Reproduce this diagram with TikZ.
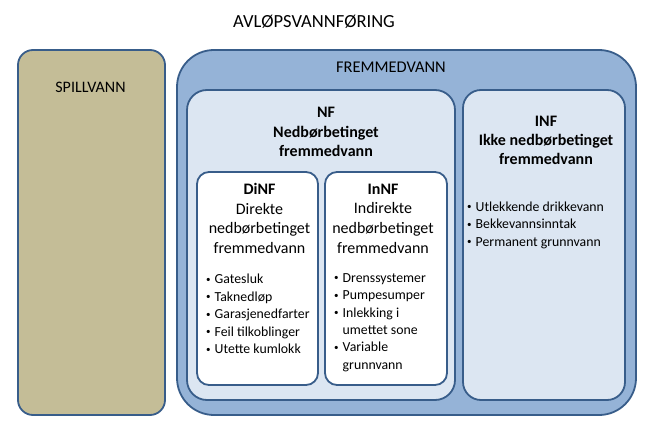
\documentclass[tikz,border=0pt]{standalone}
\usepackage{fontspec}
\setmainfont{Carlito}
\definecolor{edge}{HTML}{385D8A}
\definecolor{tan}{HTML}{C4BD97}
\definecolor{midblue}{HTML}{95B3D7}
\definecolor{lightblue}{HTML}{DCE6F2}
\newcommand{\bul}{\makebox[8.5pt][l]{\raisebox{1.5pt}{\fontsize{9}{9}\selectfont •}}}
\newcommand{\cont}{\hspace*{8.5pt}}
\tikzset{
  box/.style={draw=edge, line width=1.8pt, inner sep=0pt, outer sep=0pt},
  head/.style={align=center, inner sep=0pt, font=\fontsize{16}{19.5}\selectfont},
  lst/.style={align=left, inner sep=0pt, anchor=west, font=\fontsize{13.8}{17.4}\selectfont},
}
\begin{document}
\begin{tikzpicture}[x=1pt,y=-1pt]
\useasboundingbox (0,0) rectangle (652,430);
% boxes
\node[box, fill=tan, rounded corners=15pt, minimum width=147pt, minimum height=365pt] (spill) at (91.5,232.5) {};
\node[box, fill=midblue, rounded corners=37pt, minimum width=459pt, minimum height=365pt] (frem) at (406.5,232.5) {};
\node[box, fill=lightblue, rounded corners=20pt, minimum width=268pt, minimum height=310pt] (nf) at (321,245) {};
\node[box, fill=lightblue, rounded corners=18pt, minimum width=162pt, minimum height=310pt] (inf) at (544,245) {};
\node[box, fill=white, rounded corners=12pt, minimum width=121pt, minimum height=213pt] (dinf) at (257.5,278.5) {};
\node[box, fill=white, rounded corners=12pt, minimum width=122pt, minimum height=213pt] (innf) at (386,278.5) {};
% texts
\node[head, font=\fontsize{18.5}{21}\selectfont] (title) at (314,22) {AVLØPSVANNFØRING};
\node[head] (spilltxt) at (90.5,87) {SPILLVANN};
\node[head, font=\fontsize{16.4}{19.5}\selectfont] (fremtxt) at (391,67) {FREMMEDVANN};
\node[head, font=\fontsize{16}{19.5}\selectfont\bfseries] (nftxt) at (326,132) {NF\\Nedbørbetinget\\fremmedvann};
\node[head, font=\fontsize{16}{19}\selectfont\bfseries] (inftxt) at (546,140) {INF\\Ikke nedbørbetinget\\fremmedvann};
\node[head, font=\fontsize{16}{19.7}\selectfont] (dinftxt) at (259.5,218.5) {\textbf{DiNF}\\Direkte\\nedbørbetinget\\fremmedvann};
\node[head, font=\fontsize{16}{19.7}\selectfont] (innftxt) at (383,218.5) {\textbf{InNF}\\Indirekte\\nedbørbetinget\\fremmedvann};
\node[lst] (dinflist) at (206,314) {\bul Gatesluk\\\bul Taknedløp\\\bul Garasjenedfarter\\\bul Feil tilkoblinger\\\bul Utette kumlokk};
\node[lst] (innflist) at (334,322.5) {\bul Drenssystemer\\\bul Pumpesumper\\\bul Inlekking i\\\cont umettet sone\\\bul Variable\\\cont grunnvann};
\node[lst] (inflist) at (467,225) {\bul Utlekkende drikkevann\\\bul Bekkevannsinntak\\\bul Permanent grunnvann};
\end{tikzpicture}
\end{document}
